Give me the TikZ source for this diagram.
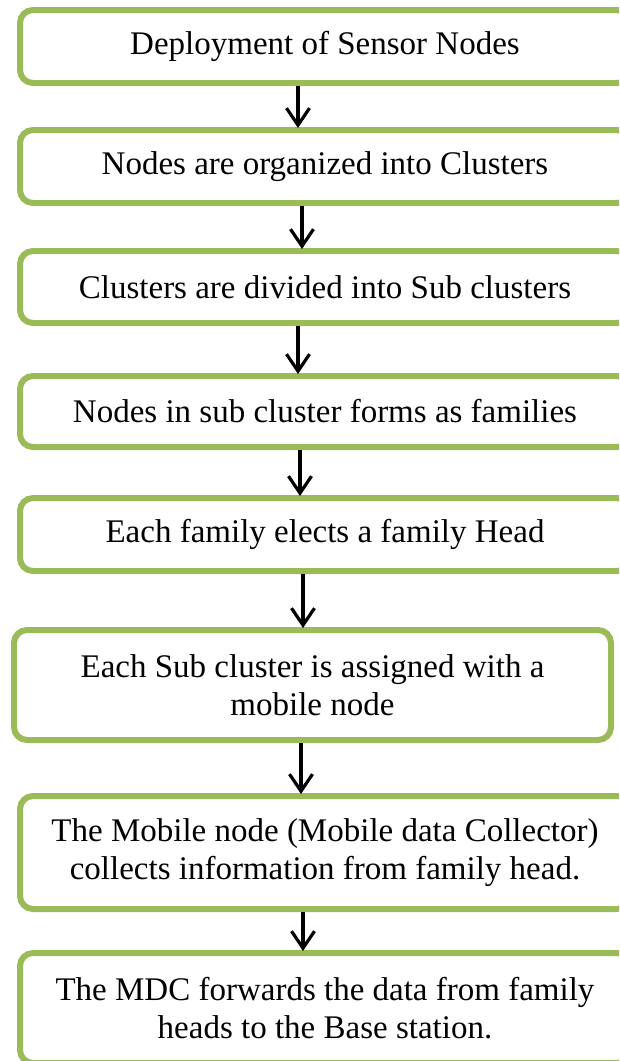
\documentclass[tikz,border=0pt]{standalone}
\usepackage{fontspec}
\setmainfont{Liberation Serif}
\usetikzlibrary{arrows.meta}
\definecolor{boxgreen}{HTML}{9BBB59}
\tikzset{
  stepbox/.style={draw=boxgreen, line width=6pt, rounded corners=13pt, fill=white,
    minimum width=610pt, minimum height=73pt, inner sep=0pt, align=center,
    font=\fontsize{33}{38}\selectfont},
  flowarrow/.style={line width=3.2pt, -{Straight Barb[length=17pt,width=23pt,line width=3.2pt]}, shorten >=-1pt}
}
\begin{document}
\begin{tikzpicture}[x=1pt,y=-1pt]
\useasboundingbox (0,0) rectangle (619,1061);
\clip (0,0) rectangle (619,1061);
\fill[white] (0,0) rectangle (619,1061);
\node[stepbox] (b1) at (325,46.5) {Deployment of Sensor Nodes};
\node[stepbox] (b2) at (325,166.5) {Nodes are organized into Clusters};
\node[stepbox, minimum height=72pt] (b3) at (325,287) {Clusters are divided into Sub clusters};
\node[stepbox, minimum height=71pt] (b4) at (325,411.5) {Nodes in sub cluster forms as families};
\node[stepbox] (b5) at (325,534.5) {Each family elects a family Head};
\node[stepbox, minimum width=597pt, minimum height=110pt] (b6) at (312.5,685) {Each Sub cluster is assigned with a\\mobile node};
\node[stepbox, minimum height=113pt] (b7) at (325,852.5) {The Mobile node (Mobile data Collector)\\collects information from family head.};
\node[stepbox, minimum height=110pt] (b8) at (325,1008) {The MDC forwards the data from family\\heads to the Base station.};
\draw[flowarrow] ([xshift=-27pt]b1.south) -- ([xshift=-27pt]b2.north);
\draw[flowarrow] ([xshift=-23pt]b2.south) -- ([xshift=-23pt]b3.north);
\draw[flowarrow] ([xshift=-27pt]b3.south) -- ([xshift=-27pt]b4.north);
\draw[flowarrow] ([xshift=-25pt]b4.south) -- ([xshift=-25pt]b5.north);
\draw[flowarrow] ([xshift=-22pt]b5.south) -- ([xshift=-9.5pt]b6.north);
\draw[flowarrow] ([xshift=-11.5pt]b6.south) -- ([xshift=-24pt]b7.north);
\draw[flowarrow] ([xshift=-22pt]b7.south) -- ([xshift=-22pt]b8.north);
\end{tikzpicture}
\end{document}
